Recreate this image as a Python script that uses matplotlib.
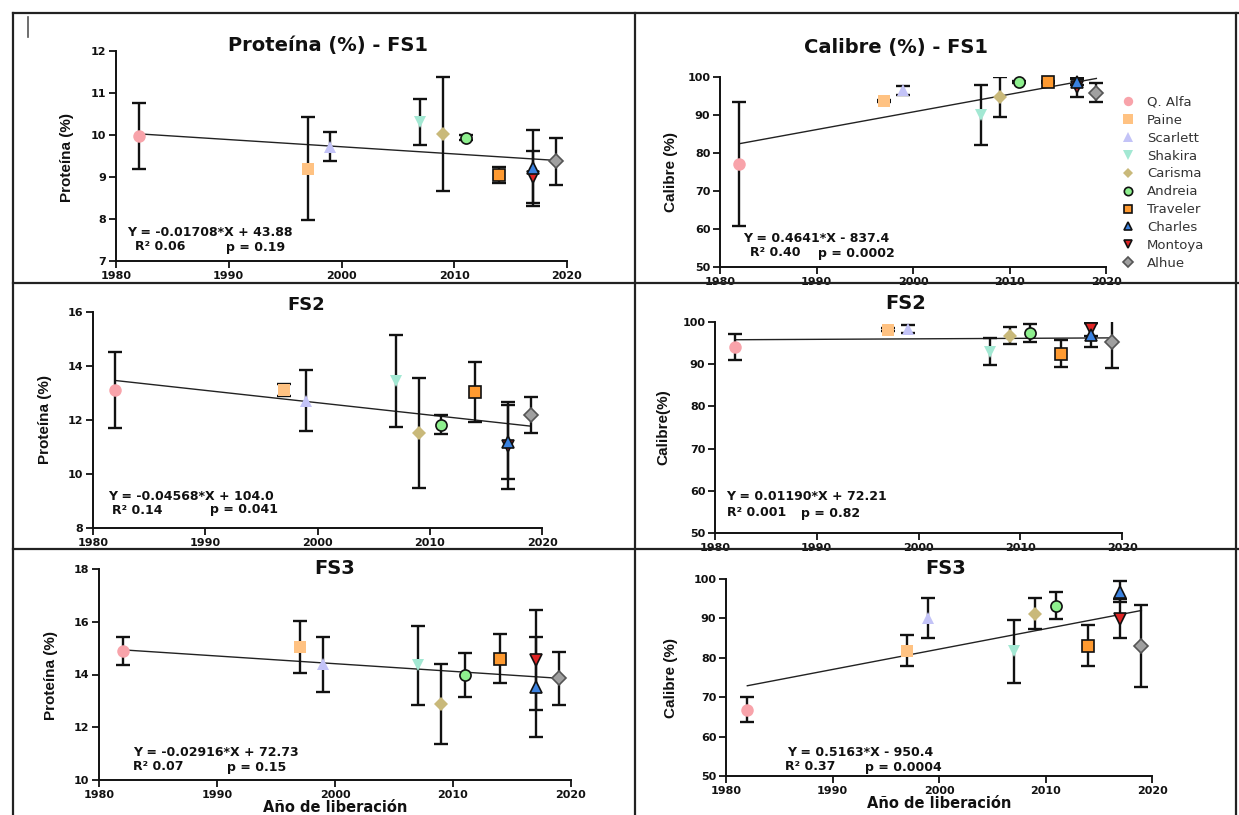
import numpy as np
import matplotlib
matplotlib.use("Agg")
import matplotlib.pyplot as plt
from matplotlib.lines import Line2D

plt.rcParams['font.family'] = ['DejaVu Sans']

W, H = 1239, 815

## data
varieties = ["Q. Alfa", "Paine", "Scarlett", "Shakira", "Carisma",
             "Andreia", "Traveler", "Charles", "Montoya", "Alhue"]
years = [1982, 1997, 1999, 2007, 2009, 2011, 2014, 2017, 2017, 2019]

prot_fs1 = [9.97, 9.20, 9.72, 10.30, 10.03, 9.93, 9.05, 9.22, 9.00, 9.37]
prot_fs1_err = [0.78, 1.23, 0.35, 0.55, 1.36, 0.06, 0.19, 0.90, 0.63, 0.55]
cal_fs1 = [77.2, 93.6, 96.5, 90.0, 94.8, 98.7, 98.7, 98.8, 97.3, 95.8]
cal_fs1_err = [16.3, 0.3, 1.2, 8.0, 5.3, 0.3, 0.3, 0.8, 2.6, 2.5]

prot_fs2 = [13.12, 13.10, 12.72, 13.45, 11.52, 11.82, 13.03, 11.17, 11.05, 12.18]
prot_fs2_err = [1.40, 0.22, 1.13, 1.70, 2.02, 0.35, 1.10, 1.37, 1.62, 0.67]
cal_fs2 = [94.1, 98.2, 98.3, 93.0, 96.8, 97.4, 92.5, 96.9, 98.3, 95.2]
cal_fs2_err = [3.0, 0.3, 0.9, 3.1, 2.1, 2.1, 3.2, 2.8, 1.5, 6.0]

prot_fs3 = [14.88, 15.05, 14.38, 14.35, 12.88, 13.97, 14.60, 13.52, 14.55, 13.85]
prot_fs3_err = [0.53, 0.98, 1.04, 1.50, 1.52, 0.83, 0.92, 1.90, 1.88, 1.00]
cal_fs3 = [66.8, 81.8, 90.0, 81.6, 91.2, 93.2, 83.1, 96.8, 89.9, 83.1]
cal_fs3_err = [3.2, 4.0, 5.1, 8.0, 3.9, 3.4, 5.3, 2.7, 5.0, 10.4]

# linear fits (slope, intercept) as printed on the panels
fit_prot = [(-0.01708, 43.88), (-0.04568, 104.0), (-0.02916, 72.73)]
fit_cal = [(0.4641, -837.4), (0.01190, 72.21), (0.5163, -950.4)]

eq_prot = ["Y = -0.01708*X + 43.88", "Y = -0.04568*X + 104.0", "Y = -0.02916*X + 72.73"]
r2_prot = ["R² 0.06", "R² 0.14", "R² 0.07"]
p_prot = ["p = 0.19", "p = 0.041", "p = 0.15"]
eq_cal = ["Y = 0.4641*X - 837.4", "Y = 0.01190*X + 72.21", "Y = 0.5163*X - 950.4"]
r2_cal = ["R² 0.40", "R² 0.001", "R² 0.37"]
p_cal = ["p = 0.0002", "p = 0.82", "p = 0.0004"]

titles = ["Proteína (%) - FS1", "Calibre (%) - FS1", "FS2", "FS2", "FS3", "FS3"]

## styles
markers = ['o', 's', '^', 'v', 'D', 'o', 's', '^', 'v', 'D']
msizes = [9, 9, 9, 9, 7, 8, 8, 8, 8, 7]
faces = ['#f8a3aa', '#ffc282', '#c3c3f7', '#a3e8d3', '#c9b97a',
         '#8ef08e', '#ff9a30', '#3b82e0', '#e02424', '#a0a0a0']
edges = [None, None, None, None, None,
         '#111111', '#111111', '#111111', '#111111', '#555555']
zords = [4, 4, 4, 4, 4, 4, 4, 4.6, 4.4, 4]


def fx(x):
    return x / W


def fy(y):
    return 1 - y / H


def px_rect(l, t, r, b):
    return [l / W, 1 - b / H, (r - l) / W, (b - t) / H]


fig = plt.figure(figsize=(W / 100, H / 100), dpi=100)

# panel frames
lk = dict(color='#222222', lw=1.6, transform=fig.transFigure)
fig.add_artist(Line2D([fx(13), fx(1239)], [fy(13), fy(13)], **lk))
fig.add_artist(Line2D([fx(13), fx(13)], [fy(13), fy(815)], **lk))
fig.add_artist(Line2D([fx(1236), fx(1236)], [fy(13), fy(815)], **lk))
fig.add_artist(Line2D([fx(635), fx(635)], [fy(13), fy(815)], **lk))
fig.add_artist(Line2D([fx(13), fx(1239)], [fy(283), fy(283)], **lk))
fig.add_artist(Line2D([fx(13), fx(1239)], [fy(549), fy(549)], **lk))
fig.add_artist(Line2D([fx(28), fx(28)], [fy(17), fy(37)], color='#555555', lw=1.2,
                      transform=fig.transFigure))

panels = [
    # rect, means, errs, fit, ylim, yticks
    ((116, 51, 567, 261), prot_fs1, prot_fs1_err, fit_prot[0], (7, 12), np.arange(7, 13, 1)),
    ((720, 77, 1106, 267), cal_fs1, cal_fs1_err, fit_cal[0], (50, 100), np.arange(50, 101, 10)),
    ((93, 312, 542, 528), prot_fs2, prot_fs2_err, fit_prot[1], (8, 16), np.arange(8, 17, 2)),
    ((715, 322, 1122, 533), cal_fs2, cal_fs2_err, fit_cal[1], (50, 100), np.arange(50, 101, 10)),
    ((99, 569, 571, 780), prot_fs3, prot_fs3_err, fit_prot[2], (10, 18), np.arange(10, 19, 2)),
    ((726, 579, 1152, 776), cal_fs3, cal_fs3_err, fit_cal[2], (50, 100), np.arange(50, 101, 10)),
]

axes = []
handles = []
for k, (rect, means, errs, fit, ylim, yt) in enumerate(panels):
    ax = fig.add_axes(px_rect(*rect))
    xs = np.array([min(years), max(years)])
    ax.plot(xs, fit[0] * xs + fit[1], color='#222222', lw=1.0, zorder=2)
    for i in range(len(varieties)):
        ax.errorbar(years[i], means[i], yerr=errs[i], fmt='none', ecolor='#111111',
                    elinewidth=1.7, capsize=5, capthick=1.7, zorder=3)
        h, = ax.plot(years[i], means[i], marker=markers[i], ms=msizes[i], ls='none',
                     mfc=faces[i], mec=edges[i] if edges[i] else faces[i],
                     mew=1.2 if edges[i] else 0, zorder=zords[i], clip_on=False,
                     label=varieties[i])
        if k == 1:
            handles.append(h)
    ax.set_xlim(1980, 2020)
    ax.set_ylim(*ylim)
    ax.set_xticks([1980, 1990, 2000, 2010, 2020])
    ax.set_yticks(yt)
    for s in ['top', 'right']:
        ax.spines[s].set_visible(False)
    for s in ['left', 'bottom']:
        ax.spines[s].set_linewidth(1.4)
        ax.spines[s].set_color('#111111')
    ax.tick_params(direction='out', length=5, width=1.3, labelsize=8, pad=2,
                   colors='#111111')
    for lab in ax.get_xticklabels() + ax.get_yticklabels():
        lab.set_fontweight('bold')
    axes.append(ax)

# titles
tk = dict(ha='center', va='center', fontweight='bold', color='#111111')
fig.text(fx(328), fy(46), titles[0], fontsize=14, **tk)
fig.text(fx(896), fy(47), titles[1], fontsize=14, **tk)
fig.text(fx(306), fy(305), titles[2], fontsize=13, **tk)
fig.text(fx(906), fy(303), titles[3], fontsize=14, **tk)
fig.text(fx(335), fy(569), titles[4], fontsize=14, **tk)
fig.text(fx(946), fy(568), titles[5], fontsize=14, **tk)

# y labels
yk = dict(ha='center', va='center', rotation=90, fontweight='bold', color='#111111',
          family=['Liberation Sans', 'DejaVu Sans'], fontsize=11)
fig.text(fx(67), fy(157), "Proteína (%)", **yk)
fig.text(fx(671), fy(172), "Calibre (%)", **yk)
fig.text(fx(45), fy(420), "Proteína (%)", **yk)
fig.text(fx(663), fy(427), "Calibre(%)", **yk)
fig.text(fx(51), fy(675), "Proteína (%)", **yk)
fig.text(fx(671), fy(678), "Calibre (%)", **yk)

# x labels
xk = dict(ha='center', va='center', fontweight='bold', color='#111111', fontsize=10.5)
fig.text(fx(335), fy(808), "Año de liberación", **xk)
fig.text(fx(939), fy(804), "Año de liberación", **xk)

# regression statistics
ak = dict(ha='left', va='center', fontweight='bold', color='#111111', fontsize=9)
ann = [
    (127, 233, 135, 247, 226, eq_prot[0], r2_prot[0], p_prot[0]),
    (743, 238, 750, 253, 818, eq_cal[0], r2_cal[0], p_cal[0]),
    (108, 496, 112, 510, 210, eq_prot[1], r2_prot[1], p_prot[1]),
    (726, 497, 727, 513, 801, eq_cal[1], r2_cal[1], p_cal[1]),
    (133, 753, 133, 767, 227, eq_prot[2], r2_prot[2], p_prot[2]),
    (787, 753, 785, 767, 865, eq_cal[2], r2_cal[2], p_cal[2]),
]
for ex, ey, rx, ry, px, e, r, p in ann:
    fig.text(fx(ex), fy(ey), e, **ak)
    fig.text(fx(rx), fy(ry), r, **ak)
    fig.text(fx(px), fy(ry), p, **ak)

# legend
fig.legend(handles=handles, loc='upper left', bbox_to_anchor=(fx(1110), fy(84)),
           frameon=False, fontsize=9.5, markerscale=0.75, handlelength=1.0,
           handletextpad=0.9, labelspacing=0.37, labelcolor='#333333')

fig.savefig("out.png", dpi=100)
